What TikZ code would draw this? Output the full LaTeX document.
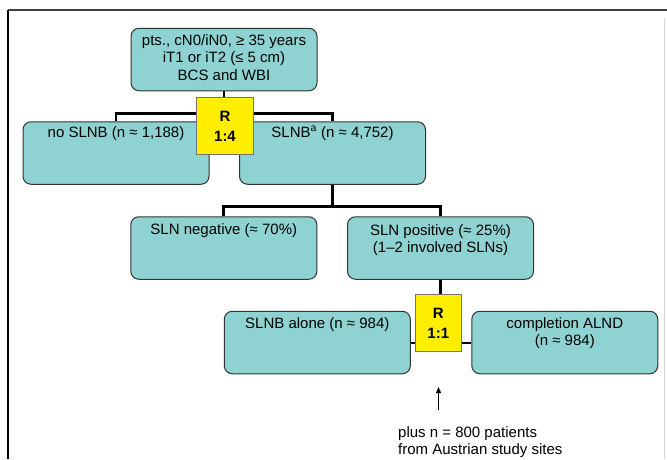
\documentclass[tikz,border=0pt]{standalone}
\usepackage{fontspec}
\setmainfont{Liberation Sans}
\usetikzlibrary{arrows.meta,calc}
\definecolor{boxteal}{RGB}{142,210,210}
\definecolor{ryellow}{RGB}{255,238,0}
\begin{document}
\begin{tikzpicture}[x=1pt,y=-1pt,
 box/.style={draw=black!80, line width=1pt, fill=boxteal, rounded corners=8pt,
   minimum width=186pt, minimum height=62.5pt, inner sep=0pt},
 rbox/.style={draw=black!55, line width=0.8pt, fill=ryellow, inner sep=0pt,
   font=\fontsize{15}{20}\selectfont\bfseries, align=center},
 txt/.style={font=\fontsize{15}{17.5}\selectfont, align=center, inner sep=0pt},
 link/.style={line width=2.8pt, black},
 thinlink/.style={line width=2pt, black},
]
\useasboundingbox (0,0) rectangle (667,459);
\fill[white] (0,0) rectangle (667,459);
% frame
\draw[line width=2pt, black!75] (8,10) -- (667,10);
\draw[line width=1.5pt, black] (8,10) -- (8,459);
\draw[line width=0.8pt, black!15] (664,18) -- (664,459);

% boxes
\node[box] (top) at (224,59.5) {};
\node[box] (noslnb) at (116,153) {};
\node[box] (slnb) at (332.5,153) {};
\node[box] (slnneg) at (223.8,248) {};
\node[box] (slnpos) at (440.5,248) {};
\node[box] (alone) at (317.3,342.5) {};
\node[box] (compl) at (564.8,342.5) {};

% texts
\node[txt] (top-t) at ($(top.center)+(0,-2)$) {pts., cN0/iN0, ≥ 35 years\\iT1 or iT2 (≤ 5 cm)\\BCS and WBI};
\node[txt] (noslnb-t) at ($(noslnb.north)+(0,12)$) {no SLNB (n ≈ 1,188)};
\node[txt] (slnb-t) at ($(slnb.north)+(0,12)$) {SLNB\textsuperscript{a} (n ≈ 4,752)};
\node[txt] (slnneg-t) at ($(slnneg.north)+(0,14)$) {SLN negative (≈ 70\%)};
\node[txt] (slnpos-t) at ($(slnpos.north)+(0,24)$) {SLN positive (≈ 25\%)\\(1–2 involved SLNs)};
\node[txt] (alone-t) at ($(alone.north)+(0,13.5)$) {SLNB alone (n ≈ 984)};
\node[txt] (compl-t) at ($(compl.north)+(0,22.5)$) {completion ALND\\(n ≈ 984)};

% connectors level 1
\draw[link] (noslnb.north) -- ++(0,-8) -| (slnb.north);
\draw[link] (top.south) -- ++(0,8);
\node[rbox, minimum width=56.6pt, minimum height=57pt] (r1) at (225,126) {R\\1:4};

% connectors level 2
\coordinate (j2) at ($(slnneg.north)+(0,-10)$);
\draw[link] (slnneg.north) -- (j2) -| (slnpos.north);
\draw[link] (slnb.south) -- (slnb.south |- j2);

% second randomisation
\node[rbox, minimum width=46pt, minimum height=57.5pt] (r2) at (438.3,323) {R\\1:1};
\draw[link] (slnpos.south) -- (slnpos.south |- r2.north);
\draw[thinlink] (alone.east) -- (r2.west |- alone.east);
\draw[thinlink] (r2.east |- compl.west) -- (compl.west);

% note and arrow
\node[txt, align=left, anchor=north west, font=\fontsize{15}{17.5}\selectfont] (note) at (398,426) {plus n = 800 patients\\from Austrian study sites};
\coordinate (atail) at (438.5,410);
\coordinate (ahead) at (438.5,387);
\draw[line width=1.2pt, -{Triangle[length=6pt,width=5pt]}] (atail) -- (ahead);
\end{tikzpicture}
\end{document}
